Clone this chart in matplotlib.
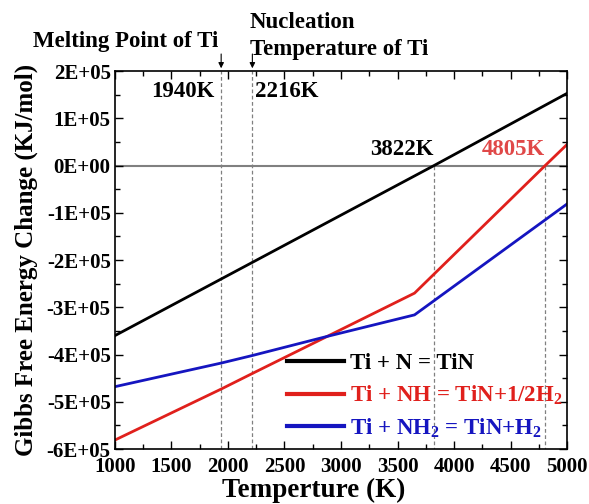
import matplotlib
matplotlib.use("Agg")
import matplotlib.pyplot as plt
import numpy as np

plt.rcParams['font.family'] = ['Liberation Serif', 'DejaVu Serif']
plt.rcParams['font.weight'] = 'bold'
plt.rcParams['mathtext.fontset'] = 'custom'
plt.rcParams['mathtext.rm'] = 'Liberation Serif:bold'
plt.rcParams['mathtext.bf'] = 'Liberation Serif:bold'
plt.rcParams['mathtext.it'] = 'Liberation Serif:bold'

# Data
T_tin = [1000, 3822, 5000]
G_tin = [-3.6e5, 0.0, 1.53e5]
T_nh = [1000, 1940, 2216, 3650, 4805, 5000]
G_nh = [-5.81e5, -4.73e5, -4.40e5, -2.70e5, 0.0, 0.45e5]
T_nh2 = [1000, 1940, 2216, 2870, 3650, 5000]
G_nh2 = [-4.68e5, -4.18e5, -4.02e5, -3.62e5, -3.16e5, -0.81e5]
labels = ["Ti + N = TiN", r"Ti + NH = TiN+1/2H$_\mathbf{2}$", r"Ti + NH$_\mathbf{2}$ = TiN+H$_\mathbf{2}$"]
colors = ["#000000", "#e0201c", "#1515c0"]
yticks = [2e5, 1e5, 0, -1e5, -2e5, -3e5, -4e5, -5e5, -6e5]
ytick_labels = ["2E+05", "1E+05", "0E+00", "-1E+05", "-2E+05", "-3E+05", "-4E+05", "-5E+05", "-6E+05"]
xticks = [1000, 1500, 2000, 2500, 3000, 3500, 4000, 4500, 5000]
vlines_full = [1940, 2216]
vlines_low = [3822, 4805]

fig = plt.figure(figsize=(5.89, 5.04), dpi=100)
ax = fig.add_axes([0.195, 0.109, 0.768, 0.75])

ax.axhline(0, color="#808080", lw=1.5, zorder=1)
for x in vlines_full:
    ax.axvline(x, color="#808080", lw=0.9, ls=(0, (3, 2)), zorder=1)
for x in vlines_low:
    ax.plot([x, x], [0, -6e5], color="#808080", lw=0.9, ls=(0, (3, 2)), zorder=1)

ax.plot(T_tin, G_tin, color=colors[0], lw=2, label=labels[0])
ax.plot(T_nh, G_nh, color=colors[1], lw=2, label=labels[1])
ax.plot(T_nh2, G_nh2, color=colors[2], lw=2, label=labels[2])

ax.set_xlim(1000, 5000)
ax.set_ylim(-6e5, 2e5)
ax.set_xticks(xticks)
ax.set_xticklabels([str(x) for x in xticks])
ax.set_yticks(yticks)
ax.set_yticklabels(ytick_labels)
ax.set_xticks(np.arange(1000, 5001, 250), minor=True)
ax.set_yticks(np.arange(-6e5, 2e5 + 1, 5e4), minor=True)
ax.tick_params(which='both', direction='in', top=True, right=True, labelsize=15, width=1)
ax.tick_params(axis='x', pad=6)
ax.tick_params(axis='y', pad=3)
ax.tick_params(which='major', length=6)
ax.tick_params(which='minor', length=3.5)
for s in ax.spines.values():
    s.set_linewidth(1.2)

ax.set_xlabel("Temperture (K)", fontsize=19.5, fontweight='bold')
ax.xaxis.set_label_coords(0.44, -0.075)
ax.set_ylabel("Gibbs Free Energy Change (KJ/mol)", fontsize=18, fontweight='bold')
ax.yaxis.set_label_coords(-0.17, 0.5)

ax.text(1885, 1.56e5, "1940K", fontsize=16.5, ha='right', va='center')
ax.text(2240, 1.56e5, "2216K", fontsize=16.5, ha='left', va='center')
ax.text(3815, 0.33e5, "3822K", fontsize=16.5, ha='right', va='center')
ax.text(4800, 0.33e5, "4805K", fontsize=16.5, ha='right', va='center', color="#e04848")

for x in vlines_full:
    ax.annotate("", xy=(x, 2e5), xytext=(x, 2.42e5), xycoords='data',
                arrowprops=dict(arrowstyle='-|>', color='black', lw=0.8, mutation_scale=8),
                annotation_clip=False)

fig.text(0.056, 0.917, "Melting Point of Ti", fontsize=16.5, fontweight='bold', ha='left', va='center')
fig.text(0.424, 0.955, "Nucleation", fontsize=16.5, fontweight='bold', ha='left', va='center')
fig.text(0.424, 0.902, "Temperature of Ti", fontsize=16.5, fontweight='bold', ha='left', va='center')

leg = ax.legend(loc='lower right', bbox_to_anchor=(1.035, -0.03), frameon=False, fontsize=16.5,
                handlelength=2.5, handletextpad=0.25, labelspacing=0.42)
for t, c in zip(leg.get_texts(), colors):
    t.set_color(c)
for l in leg.get_lines():
    l.set_linewidth(3)

fig.savefig("out.png", dpi=100)
